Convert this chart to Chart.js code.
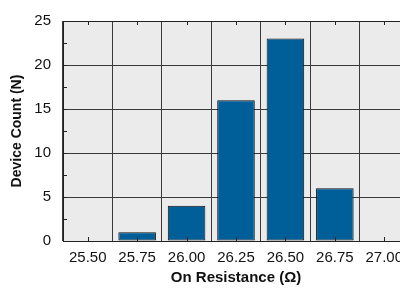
<!DOCTYPE html>
<html lang="en">
<head>
    <meta charset="UTF-8">
    <title>On Resistance Histogram</title>
    <style>
        body { margin: 0; overflow: hidden; background: #fff; }
        #wrap { width: 420px; height: 293px; }
    </style>
</head>
<body>
    <div id="wrap">
        <canvas id="myChart" width="420" height="293"></canvas>
    </div>

<script src="https://cdn.jsdelivr.net/npm/chart.js"></script>
<script>

const bins = ['25.50', '25.75', '26.00', '26.25', '26.50', '26.75', '27.00']
const counts = [0, 1, 4, 16, 23, 6, 0]
const yMax = 25
const yStep = 5
const minorStep = 2.5

const FONT = '"Liberation Sans", Arial, sans-serif'

// grey plot area + inward tick marks like the original
const plotDeco = {
    id: 'plotDeco',
    beforeDraw(chart) {
        const a = chart.chartArea
        const ctx = chart.ctx
        ctx.save()
        ctx.fillStyle = '#ebebeb'
        ctx.fillRect(a.left, a.top, a.right - a.left, a.bottom - a.top)
        ctx.restore()
    },
    afterDraw(chart) {
        const a = chart.chartArea
        const ctx = chart.ctx
        const x = chart.scales.x
        const y = chart.scales.y
        ctx.save()
        ctx.strokeStyle = '#222'
        ctx.lineWidth = 1
        ctx.beginPath()
        for (let v = 0; v <= yMax; v += minorStep) {
            const py = Math.round(y.getPixelForValue(v)) + 0.5
            ctx.moveTo(a.left, py)
            ctx.lineTo(a.left + 4, py)
        }
        for (let i = 0; i < bins.length; i++) {
            const px = Math.round(x.getPixelForValue(i)) + 0.5
            ctx.moveTo(px, a.bottom)
            ctx.lineTo(px, a.bottom - 4)
            ctx.moveTo(px, a.top)
            ctx.lineTo(px, a.top + 4)
        }
        ctx.stroke()
        // axes frame
        ctx.beginPath()
        ctx.moveTo(Math.round(a.left) + 0.5, a.top)
        ctx.lineTo(Math.round(a.left) + 0.5, Math.round(a.bottom) + 0.5)
        ctx.lineTo(a.right, Math.round(a.bottom) + 0.5)
        ctx.moveTo(a.left, Math.round(a.top) + 0.5)
        ctx.lineTo(a.right, Math.round(a.top) + 0.5)
        ctx.stroke()
        ctx.restore()
    }
}

new Chart(document.querySelector('#myChart'), {
    type: 'bar',
    data: {
        labels: bins,
        datasets: [{
            data: counts,
            backgroundColor: '#005e99',
            borderColor: '#111',
            borderWidth: 1,
            borderSkipped: false,
            categoryPercentage: 1,
            barPercentage: 0.76
        }]
    },
    options: {
        responsive: false,
        animation: false,
        layout: { padding: { top: 10, right: 11, left: 0, bottom: 0 } },
        plugins: {
            legend: { display: false },
            tooltip: { enabled: false }
        },
        scales: {
            x: {
                offset: true,
                grid: {
                    offset: true,
                    color: '#3a3a3a',
                    drawTicks: false
                },
                border: { display: false },
                ticks: {
                    color: '#111',
                    font: { family: FONT, size: 15 },
                    padding: 8,
                    maxRotation: 0,
                    autoSkip: false
                },
                title: {
                    display: true,
                    text: 'On Resistance (Ω)',
                    color: '#111',
                    font: { family: FONT, size: 15, weight: 'bold' },
                    padding: { top: 0, bottom: 6 }
                },
                afterFit(scale) { scale.height = 52 }
            },
            y: {
                min: 0,
                max: yMax,
                grid: {
                    color: '#3a3a3a',
                    drawTicks: false
                },
                border: { display: false },
                ticks: {
                    stepSize: yStep,
                    color: '#111',
                    font: { family: FONT, size: 15 },
                    padding: 12
                },
                title: {
                    display: true,
                    text: 'Device Count (N)',
                    color: '#111',
                    font: { family: FONT, size: 14, weight: 'bold' },
                    padding: { top: 9, bottom: 0 }
                },
                afterFit(scale) { scale.width = 63 }
            }
        }
    },
    plugins: [plotDeco]
})

</script>
</body>
</html>
